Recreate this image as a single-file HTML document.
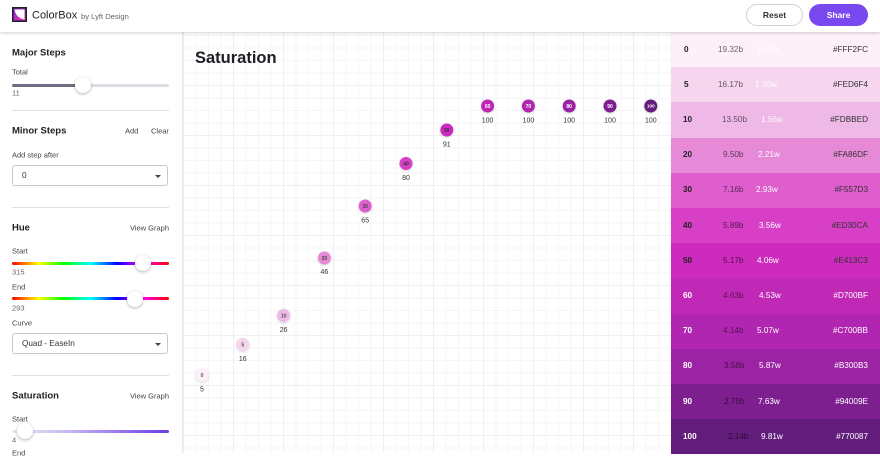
<!DOCTYPE html>
<html><head><meta charset="utf-8">
<style>
*{margin:0;padding:0;box-sizing:border-box}
html,body{width:880px;height:453px;overflow:hidden;background:#fff;font-family:"Liberation Sans",sans-serif;color:#222}
.abs{position:absolute}
.t{position:absolute;white-space:nowrap;line-height:1;transform:translateY(-50%)}
#header{position:absolute;left:0;top:0;width:880px;height:32px;background:#fff;box-shadow:0 1px 3px rgba(0,0,0,.18);z-index:5}
#side{position:absolute;left:0;top:32px;width:183px;height:421px;background:#fff;border-right:1px solid #e6e6ec}
#chart{position:absolute;left:183px;top:32px;width:488px;height:421px;background-color:#fff;
background-image:linear-gradient(to right,#efeff4 1px,transparent 1px),linear-gradient(to bottom,#efeff4 1px,transparent 1px),linear-gradient(to right,#f6f6f9 1px,transparent 1px),linear-gradient(to bottom,#f6f6f9 1px,transparent 1px);
background-size:50px 50px,50px 50px,12.5px 12.5px,12.5px 12.5px;background-position:0 3px,0 3px,0 3px,0 3px}
.h{font-size:9.5px;font-weight:bold;color:#222}
.s{font-size:7.5px;color:#444}
.v{font-size:7.5px;color:#666}
.div{position:absolute;left:12px;width:157px;height:1px;background:#dedee4}
.track{position:absolute;left:12px;width:157px;height:3px;border-radius:2px}
.thumb{position:absolute;width:16px;height:16px;border-radius:50%;background:#fff;box-shadow:0 1px 3px rgba(0,0,0,.3);transform:translate(-50%,-50%)}
.sel{position:absolute;left:12px;width:156px;border:1px solid #c8c8d0;border-radius:3px;background:#fff}
.arrow{position:absolute;width:0;height:0;border-left:3px solid transparent;border-right:3px solid transparent;border-top:3.5px solid #444}
.row{position:absolute;left:671px;width:209px;height:35.2px}
.row span{position:absolute;top:50%;transform:translateY(-50%);font-size:8.2px;line-height:1;white-space:nowrap}
#dots{position:absolute;left:0;top:0}
#dots text{font-family:"Liberation Sans",sans-serif}
</style></head><body>

<div id="header">
  <svg class="abs" style="left:12px;top:7px" width="15" height="15" viewBox="0 0 15 15">
    <defs><linearGradient id="lg" x1="0" y1="0" x2="1" y2="1"><stop offset="0" stop-color="#7b2ff7"/><stop offset="1" stop-color="#ff2d95"/></linearGradient></defs>
    <rect x="0" y="0" width="15" height="15" fill="url(#lg)"/>
    <path d="M2.5 2.5 H12.5 V12.5 Q4 11 2.5 2.5Z" fill="#fff"/>
    <rect x="0.8" y="0.8" width="13.4" height="13.4" fill="none" stroke="#1e1e2e" stroke-width="1.6"/>
  </svg>
  <div class="t" style="left:32px;top:15.5px;font-size:11px;color:#222">ColorBox</div>
  <div class="t" style="left:81px;top:16.5px;font-size:7.6px;color:#666">by Lyft Design</div>
  <div class="abs" style="left:746px;top:4px;width:57px;height:22px;border:1px solid #cfcfda;border-radius:11px;background:#fff;font-size:8.5px;font-weight:bold;color:#333;text-align:center;line-height:20px">Reset</div>
  <div class="abs" style="left:809px;top:4px;width:59px;height:22px;border-radius:11px;background:#7a48ef;font-size:8.5px;font-weight:bold;color:#fff;text-align:center;line-height:22px">Share</div>
</div>

<div id="side"></div>
<div id="chart"></div>

<div class="t h" style="left:12px;top:53px">Major Steps</div>
<div class="t s" style="left:12px;top:72px">Total</div>
<div class="track" style="top:83.5px;background:linear-gradient(to right,#6d6d84 0,#6d6d84 71px,#dcdce2 71px)"></div>
<div class="thumb" style="left:83px;top:85px"></div>
<div class="t v" style="left:12px;top:93px">11</div>
<div class="div" style="top:110px"></div>

<div class="t h" style="left:12px;top:130.5px">Minor Steps</div>
<div class="t s" style="left:125px;top:131px">Add</div>
<div class="t s" style="left:151px;top:131px">Clear</div>
<div class="t s" style="left:12px;top:154.5px">Add step after</div>
<div class="sel" style="top:165px;height:21px"></div>
<div class="t" style="left:22px;top:176px;font-size:8.2px;color:#333">0</div>
<div class="arrow" style="left:155px;top:174.5px"></div>
<div class="div" style="top:207px"></div>

<div class="t h" style="left:12px;top:228px">Hue</div>
<div class="t s" style="right:711px;top:228px">View Graph</div>
<div class="t s" style="left:12px;top:251px">Start</div>
<div class="track" style="top:261.5px;background:linear-gradient(to right,#f00 0%,#ff0 17%,#0f0 33%,#0ff 50%,#00f 67%,#f0f 83%,#f00 100%)"></div>
<div class="thumb" style="left:143px;top:263px"></div>
<div class="t v" style="left:12px;top:272px">315</div>
<div class="t s" style="left:12px;top:287px">End</div>
<div class="track" style="top:297px;background:linear-gradient(to right,#f00 0%,#ff0 17%,#0f0 33%,#0ff 50%,#00f 67%,#f0f 83%,#f00 100%)"></div>
<div class="thumb" style="left:135px;top:298.5px"></div>
<div class="t v" style="left:12px;top:307.5px">293</div>
<div class="t s" style="left:12px;top:323px">Curve</div>
<div class="sel" style="top:333px;height:21px"></div>
<div class="t" style="left:22px;top:344px;font-size:8.2px;color:#333">Quad - EaseIn</div>
<div class="arrow" style="left:155px;top:342.5px"></div>
<div class="div" style="top:375px"></div>

<div class="t h" style="left:12px;top:395.5px">Saturation</div>
<div class="t s" style="right:711px;top:396px">View Graph</div>
<div class="t s" style="left:12px;top:418.5px">Start</div>
<div class="track" style="top:429.5px;background:linear-gradient(to right,#ece8f8 0%,#c9b8f4 35%,#6a3be6 100%)"></div>
<div class="thumb" style="left:25px;top:431px"></div>
<div class="t v" style="left:12px;top:439.5px">4</div>
<div class="t s" style="left:12px;top:453px">End</div>

<div class="t" style="left:195px;top:58px;font-size:16.5px;font-weight:bold;color:#1e1e24">Saturation</div>

<svg id="dots" width="880" height="453" viewBox="0 0 880 453">
  <defs><filter id="sh" x="-50%" y="-50%" width="200%" height="200%"><feDropShadow dx="0" dy="0.8" stdDeviation="1.2" flood-color="#000" flood-opacity="0.18"/></filter></defs>
  <g filter="url(#sh)">
    <circle cx="202" cy="375" r="6.5" fill="#fdf0f9"/>
    <circle cx="242.8" cy="344.5" r="6.5" fill="#f6d5ee"/>
    <circle cx="283.6" cy="315.5" r="6.5" fill="#eeb9e6"/>
    <circle cx="324.4" cy="258" r="6.5" fill="#e68ad7"/>
    <circle cx="365.2" cy="206" r="6.5" fill="#de5ecd"/>
    <circle cx="406" cy="163.5" r="6.5" fill="#d63fc6"/>
    <circle cx="446.8" cy="130" r="6.5" fill="#cc2bbe"/>
    <circle cx="487.6" cy="106" r="6.5" fill="#c028b6"/>
    <circle cx="528.4" cy="106" r="6.5" fill="#b126b0"/>
    <circle cx="569.2" cy="106" r="6.5" fill="#9c23a4"/>
    <circle cx="610" cy="106" r="6.5" fill="#7e1f90"/>
    <circle cx="650.8" cy="106" r="6.5" fill="#621c7c"/>
  </g>
  <g font-size="5" font-weight="bold" text-anchor="middle">
    <text x="202" y="376.8" fill="#555">0</text>
    <text x="242.8" y="346.3" fill="#555">5</text>
    <text x="283.6" y="317.3" fill="#555">10</text>
    <text x="324.4" y="259.8" fill="#444">20</text>
    <text x="365.2" y="207.8" fill="#444">30</text>
    <text x="406" y="165.3" fill="#333">40</text>
    <text x="446.8" y="131.8" fill="#333">50</text>
    <text x="487.6" y="107.8" fill="#fff">60</text>
    <text x="528.4" y="107.8" fill="#fff">70</text>
    <text x="569.2" y="107.8" fill="#fff">80</text>
    <text x="610" y="107.8" fill="#fff">90</text>
    <text x="650.8" y="107.6" fill="#fff" font-size="4.6">100</text>
  </g>
  <g font-size="7" text-anchor="middle" fill="#333">
    <text x="202" y="391.5">5</text>
    <text x="242.8" y="361">16</text>
    <text x="283.6" y="332">26</text>
    <text x="324.4" y="274">46</text>
    <text x="365.2" y="222.5">65</text>
    <text x="406" y="180">80</text>
    <text x="446.8" y="146.5">91</text>
    <text x="487.6" y="122.5">100</text>
    <text x="528.4" y="122.5">100</text>
    <text x="569.2" y="122.5">100</text>
    <text x="610" y="122.5">100</text>
    <text x="650.8" y="122.5">100</text>
  </g>
</svg>

<div class="row" style="top:32px;background:#fdf0f9"><span style="left:13px;font-weight:bold;color:#222">0</span><span style="left:47px;color:rgba(0,0,0,.6)">19.32b</span><span style="left:86px;color:rgba(255,255,255,.9)">1.07w</span><span style="right:12px;color:#333">#FFF2FC</span></div>
<div class="row" style="top:67.2px;background:#f6d5ee"><span style="left:13px;font-weight:bold;color:#222">5</span><span style="left:47px;color:rgba(0,0,0,.6)">16.17b</span><span style="left:84px;color:rgba(255,255,255,.9)">1.30w</span><span style="right:12px;color:#333">#FED6F4</span></div>
<div class="row" style="top:102.4px;background:#eeb9e6"><span style="left:12px;font-weight:bold;color:#222">10</span><span style="left:51px;color:rgba(0,0,0,.6)">13.50b</span><span style="left:90px;color:rgba(255,255,255,.9)">1.56w</span><span style="right:12px;color:#333">#FDBBED</span></div>
<div class="row" style="top:137.6px;background:#e68ad7"><span style="left:12px;font-weight:bold;color:#222">20</span><span style="left:52px;color:rgba(0,0,0,.6)">9.50b</span><span style="left:87px;color:rgba(255,255,255,.95)">2.21w</span><span style="right:12px;color:#333">#FA86DF</span></div>
<div class="row" style="top:172.8px;background:#de5ecd"><span style="left:12px;font-weight:bold;color:#222">30</span><span style="left:52px;color:rgba(0,0,0,.6)">7.16b</span><span style="left:85px;color:rgba(255,255,255,.95)">2.93w</span><span style="right:12px;color:#333">#F557D3</span></div>
<div class="row" style="top:208px;background:#d63fc6"><span style="left:12px;font-weight:bold;color:#222">40</span><span style="left:52px;color:rgba(0,0,0,.6)">5.89b</span><span style="left:88px;color:#fff">3.56w</span><span style="right:12px;color:#333">#ED30CA</span></div>
<div class="row" style="top:243.2px;background:#cc2bbe"><span style="left:12px;font-weight:bold;color:#222">50</span><span style="left:52px;color:rgba(0,0,0,.6)">5.17b</span><span style="left:86px;color:#fff">4.06w</span><span style="right:12px;color:#333">#E413C3</span></div>
<div class="row" style="top:278.4px;background:#c028b6"><span style="left:12px;font-weight:bold;color:#fff">60</span><span style="left:52px;color:rgba(0,0,0,.55)">4.63b</span><span style="left:88px;color:#fff">4.53w</span><span style="right:12px;color:#fff">#D700BF</span></div>
<div class="row" style="top:313.6px;background:#b126b0"><span style="left:12px;font-weight:bold;color:#fff">70</span><span style="left:52px;color:rgba(0,0,0,.55)">4.14b</span><span style="left:86px;color:#fff">5.07w</span><span style="right:12px;color:#fff">#C700BB</span></div>
<div class="row" style="top:348.8px;background:#9c23a4"><span style="left:12px;font-weight:bold;color:#fff">80</span><span style="left:53px;color:rgba(0,0,0,.55)">3.58b</span><span style="left:88px;color:#fff">5.87w</span><span style="right:12px;color:#fff">#B300B3</span></div>
<div class="row" style="top:384px;background:#7e1f90"><span style="left:12px;font-weight:bold;color:#fff">90</span><span style="left:53px;color:rgba(0,0,0,.55)">2.75b</span><span style="left:87px;color:#fff">7.63w</span><span style="right:12px;color:#fff">#94009E</span></div>
<div class="row" style="top:419.2px;background:#621c7c"><span style="left:12px;font-weight:bold;color:#fff">100</span><span style="left:57px;color:rgba(0,0,0,.55)">2.14b</span><span style="left:90px;color:#fff">9.81w</span><span style="right:12px;color:#fff">#770087</span></div>

</body></html>
